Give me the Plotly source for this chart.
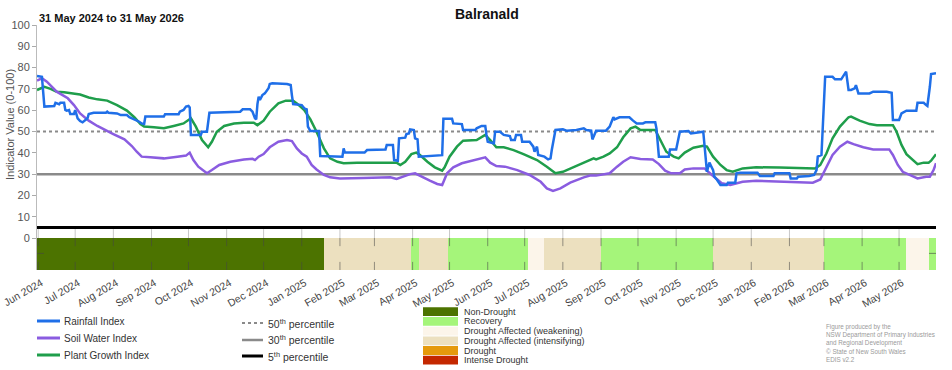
import pandas as pd
import plotly.graph_objects as go

# ---------------- data ----------------
START = "2024-05-31"
END = "2026-05-31"
TITLE = "Balranald"
SUBTITLE = "31 May 2024 to 31 May 2026"

# days since 31 May 2024
rain_day = [0, 4, 6, 12, 14, 15, 18, 19, 22, 23, 24, 26, 27, 30, 31, 33, 35, 37, 39, 41, 42, 46, 56, 57, 58, 65, 68,
            73, 75, 77, 80, 83, 85, 87, 88, 103, 104, 115, 116, 119, 121, 123, 124, 125, 133, 134, 138, 140, 165,
            167, 173, 175, 177, 178, 179, 180, 181, 183, 185, 187, 188, 189, 191, 203, 206, 207, 208, 215, 217,
            219, 220, 222, 229, 230, 248, 249, 250, 266, 268, 283, 284, 289, 290, 293, 294, 299, 300, 302, 303,
            306, 307, 309, 310, 329, 330, 337, 338, 345, 346, 356, 357, 361, 364, 365, 366, 371, 372, 376, 379,
            384, 385, 388, 389, 393, 394, 400, 402, 403, 404, 406, 407, 412, 415, 417, 418, 421, 427, 430, 438,
            444, 446, 450, 451, 454, 462, 465, 468, 469, 473, 481, 484, 487, 492, 494, 502, 503, 505, 513, 514,
            519, 522, 529, 531, 541, 542, 544, 546, 549, 550, 552, 555, 560, 561, 567, 568, 571, 585, 587, 598,
            599, 611, 612, 617, 618, 627, 631, 633, 634, 637, 638, 640, 646, 648, 653, 655, 657, 659, 661, 664,
            665, 667, 676, 679, 690, 694, 695, 700, 702, 706, 714, 715, 720, 722, 723, 725, 726, 730]
rain_val = [76.1, 75.7, 61.7, 61.7, 62.0, 63.5, 62.8, 63.5, 63.5, 60.1, 59.8, 60.1, 58.2, 58.2, 60.1, 56.2, 54.9,
            54.3, 55.4, 56.2, 58.2, 58.8, 58.8, 59.3, 58.8, 58.5, 57.7, 57.7, 56.7, 56.2, 55.4, 54.6, 53.8, 53.5,
            57.0, 57.0, 58.1, 58.1, 59.3, 60.1, 61.7, 62.0, 61.3, 48.4, 48.4, 49.9, 49.9, 58.8, 59.3, 60.4, 60.4,
            59.3, 56.2, 55.7, 62.9, 66.4, 64.8, 67.1, 67.9, 69.8, 70.3, 72.3, 72.6, 72.3, 71.8, 67.0, 62.9, 62.4,
            60.9, 60.4, 52.3, 50.2, 50.2, 38.5, 38.2, 42.1, 40.1, 40.1, 41.3, 41.6, 43.7, 43.7, 36.6, 36.3, 46.8,
            47.1, 48.8, 49.1, 51.0, 50.7, 46.8, 46.3, 38.2, 38.9, 56.0, 56.0, 53.8, 53.5, 50.7, 50.7, 51.5, 52.6,
            52.6, 48.4, 45.2, 44.4, 49.9, 49.9, 48.4, 47.9, 46.0, 46.0, 48.4, 48.4, 45.2, 45.2, 43.2, 42.9, 40.5,
            42.9, 39.0, 38.2, 36.9, 37.4, 41.3, 50.7, 51.0, 50.4, 50.7, 51.5, 50.7, 50.4, 46.3, 50.4, 50.4, 52.3,
            56.7, 55.7, 56.7, 56.7, 55.1, 53.8, 53.8, 54.3, 54.3, 51.5, 38.2, 38.2, 41.6, 41.6, 49.9, 50.2, 49.1,
            49.9, 43.7, 31.1, 35.4, 31.9, 28.8, 27.5, 24.9, 24.9, 26.0, 26.0, 30.4, 30.7, 30.7, 29.1, 29.1, 30.4,
            30.4, 28.0, 28.0, 28.8, 29.1, 29.6, 31.9, 38.2, 39.0, 52.3, 75.7, 75.7, 74.5, 74.5, 76.5, 78.1, 69.5,
            69.5, 70.3, 71.8, 67.9, 67.9, 68.7, 68.7, 68.2, 55.4, 55.4, 58.5, 59.8, 59.8, 63.5, 63.5, 62.4, 62.0,
            71.0, 77.0, 77.3]

soil_day = [0, 4, 8, 16, 25, 30, 35, 42, 49, 56, 62, 71, 77, 81, 85, 92, 103, 114, 121, 124, 127, 131, 135, 138,
            142, 148, 157, 168, 175, 177, 180, 184, 189, 196, 203, 207, 211, 215, 219, 223, 227, 233, 238, 246,
            265, 287, 292, 296, 303, 307, 311, 319, 325, 329, 333, 338, 345, 354, 364, 368, 373, 380, 390, 400,
            409, 414, 419, 425, 433, 444, 449, 454, 465, 471, 476, 482, 490, 500, 505, 510, 515, 522, 526, 533,
            542, 545, 551, 556, 563, 568, 573, 584, 601, 617, 630, 636, 641, 646, 652, 658, 663, 671, 679, 692,
            695, 699, 703, 710, 715, 722, 725, 728, 730]
soil_val = [73.9, 75.0, 73.4, 68.7, 65.6, 62.4, 58.5, 55.1, 52.6, 50.4, 48.8, 46.3, 43.2, 40.5, 38.2, 37.9, 37.4,
            38.2, 38.7, 40.1, 36.6, 33.5, 31.5, 30.4, 31.9, 34.3, 35.8, 36.9, 37.2, 36.6, 38.2, 39.4, 42.6, 45.2,
            46.0, 45.5, 42.1, 39.7, 38.2, 34.3, 32.2, 29.6, 28.5, 28.0, 28.2, 28.5, 27.7, 28.5, 30.0, 30.4, 29.1,
            26.9, 25.4, 24.9, 30.4, 33.2, 35.1, 36.3, 37.9, 35.4, 33.8, 33.5, 31.9, 29.6, 26.4, 23.3, 22.1, 23.3,
            26.0, 28.5, 29.3, 29.3, 30.4, 33.5, 35.8, 37.9, 37.1, 36.9, 34.7, 31.6, 30.4, 30.4, 32.2, 32.7, 32.7,
            31.1, 28.0, 25.7, 24.9, 25.7, 26.4, 26.9, 26.6, 26.0, 26.0, 27.5, 33.5, 39.0, 42.9, 45.2, 44.1, 42.6,
            41.6, 41.6, 39.0, 34.3, 31.1, 29.1, 28.0, 28.8, 28.8, 31.9, 35.1]

plant_day = [0, 6, 11, 16, 22, 30, 35, 42, 49, 57, 65, 73, 79, 84, 87, 95, 103, 111, 119, 125, 129, 134, 139, 142,
             146, 152, 160, 168, 176, 179, 184, 189, 196, 202, 208, 211, 217, 222, 227, 233, 238, 244, 249, 260,
             292, 295, 299, 304, 308, 311, 317, 323, 329, 331, 335, 341, 346, 357, 364, 368, 373, 379, 387, 395,
             406, 414, 421, 427, 436, 444, 452, 454, 460, 465, 471, 476, 482, 486, 490, 502, 506, 511, 517, 521,
             526, 533, 541, 544, 549, 555, 560, 565, 573, 584, 603, 622, 632, 636, 641, 646, 652, 659, 661, 668,
             676, 682, 695, 698, 702, 706, 711, 715, 720, 724, 726, 730]
plant_val = [69.5, 71.0, 70.0, 68.7, 68.4, 67.9, 67.4, 66.0, 65.1, 64.5, 62.4, 59.8, 56.7, 53.5, 52.3, 52.0, 51.5,
             52.6, 53.8, 56.2, 52.3, 46.0, 42.6, 45.2, 49.9, 52.6, 53.8, 54.1, 54.1, 53.0, 55.1, 59.3, 63.2, 64.5,
             64.5, 63.2, 60.1, 55.7, 49.9, 42.1, 37.4, 35.8, 35.1, 35.4, 35.4, 34.3, 35.8, 39.4, 40.1, 39.0, 35.8,
             33.2, 31.6, 33.2, 38.2, 42.9, 45.7, 46.0, 48.4, 46.0, 42.6, 42.6, 41.3, 39.4, 36.6, 33.5, 30.4, 31.1,
             33.5, 35.4, 37.4, 36.9, 38.2, 39.7, 42.6, 47.3, 51.5, 52.3, 50.7, 50.7, 46.0, 40.5, 38.2, 37.4, 40.1,
             42.4, 43.3, 42.9, 38.2, 34.3, 31.9, 31.1, 32.7, 33.2, 33.1, 32.7, 32.7, 34.3, 39.7, 46.8, 52.3, 56.7,
             57.0, 55.1, 53.5, 53.0, 53.0, 49.9, 43.7, 39.4, 36.6, 34.7, 35.4, 35.4, 36.3, 39.3]

series_names = ["Rainfall Index", "Soil Water Index", "Plant Growth Index"]
series_colors = ["#1f6fe8", "#8a5ce0", "#1f9e4b"]

percentile_vals = [50, 30, 5]
percentile_names = ["50<sup>th</sup> percentile", "30<sup>th</sup> percentile", "5<sup>th</sup> percentile"]

drought_start = ["2024-05-31", "2025-01-19", "2025-03-31", "2025-04-06", "2025-04-30", "2025-07-04",
                 "2025-07-17", "2025-09-01", "2025-12-01", "2026-03-01", "2026-05-07", "2026-05-25"]
drought_end = drought_start[1:] + [END]
drought_cat = ["Non-Drought", "Drought Affected (intensifying)", "Recovery", "Drought Affected (intensifying)",
               "Recovery", "Drought Affected (weakening)", "Drought Affected (intensifying)", "Recovery",
               "Drought Affected (intensifying)", "Recovery", "Drought Affected (weakening)", "Recovery"]

categories = ["Non-Drought", "Recovery", "Drought Affected (weakening)", "Drought Affected (intensifying)",
              "Drought", "Intense Drought"]
category_colors = ["#4c7300", "#a5f57a", "#fcf5ea", "#ece0bf", "#e59a0c", "#c42800"]

footnote = ["Figure produced by the", "NSW Department of Primary Industries", "and Regional Development",
            "\u00a9 State of New South Wales", "EDIS v2.2"]

# ---------------- layout geometry (pixels) ----------------
W, H = 952, 370
L, R, T, B = 37, 16, 25, 100
PW, PH = W - L - R, H - T - B
BAND = (-15, 0)
YMAX = 100


def px(x):
    return (x - L) / PW


def py(y):
    return (H - B - y) / PH


FONT = "Liberation Sans, Arial, sans-serif"
t0 = pd.Timestamp(START)


def to_dates(days):
    return t0 + pd.to_timedelta(days, unit="D")


fig = go.Figure()

# drought category band
cmap = dict(zip(categories, category_colors))
ds = pd.to_datetime(drought_start)
de = pd.to_datetime(drought_end)
fig.add_trace(go.Bar(
    x=ds, y=[BAND[1] - BAND[0]] * len(ds), base=BAND[0],
    width=[(e - s).total_seconds() * 1000 for s, e in zip(ds, de)], offset=0,
    marker=dict(color=[cmap[c] for c in drought_cat], line=dict(width=0)),
    showlegend=False, hoverinfo="skip"))

# percentile reference lines
pstyles = [dict(color="#8a8a8a", width=2, dash="dot"), dict(color="#8a8a8a", width=2.5),
           dict(color="#000000", width=3)]
for v, st in zip(percentile_vals, pstyles):
    fig.add_trace(go.Scatter(x=[START, END], y=[v, v], mode="lines", line=st,
                             showlegend=False, hoverinfo="skip"))

# index series
series = [(rain_day, rain_val), (soil_day, soil_val), (plant_day, plant_val)]
for i in [2, 1, 0]:
    d, v = series[i]
    fig.add_trace(go.Scatter(x=to_dates(d), y=v, mode="lines", name=series_names[i],
                             line=dict(color=series_colors[i], width=2.5), showlegend=False))

shapes = []
months = pd.date_range("2024-06-01", "2026-05-01", freq="MS")
for m in months:
    shapes.append(dict(type="line", xref="x", yref="y", x0=m, x1=m, y0=0, y1=4.2,
                       line=dict(color="#c8c8c8", width=1), layer="below"))
    shapes.append(dict(type="line", xref="x", yref="y", x0=m, x1=m, y0=0, y1=-3.8,
                       line=dict(color="rgba(70,70,70,0.55)", width=1)))
    shapes.append(dict(type="line", xref="x", yref="y", x0=m, x1=m, y0=-11.2, y1=-15,
                       line=dict(color="rgba(70,70,70,0.55)", width=1)))
# small inner y ticks on the band
shapes.append(dict(type="line", xref="paper", yref="y", x0=0, x1=7 / PW, y0=-7.2, y1=-7.2,
                   line=dict(color="rgba(70,70,70,0.6)", width=1)))
shapes.append(dict(type="line", xref="paper", yref="y", x0=1 - 7 / PW, x1=1, y0=-7.2, y1=-7.2,
                   line=dict(color="rgba(70,70,70,0.6)", width=1)))

annotations = []
# index legend
for name, col, y in zip(series_names, series_colors, [321, 338, 355]):
    shapes.append(dict(type="line", xref="paper", yref="paper", x0=px(37), x1=px(60), y0=py(y), y1=py(y),
                       line=dict(color=col, width=3)))
    annotations.append(dict(xref="paper", yref="paper", x=px(62), y=py(y), text=name, showarrow=False,
                            xanchor="left", yanchor="middle", font=dict(size=10, color="#333", family=FONT)))
# percentile legend
for name, st, y in zip(percentile_names, pstyles, [323, 340, 356]):
    shapes.append(dict(type="line", xref="paper", yref="paper", x0=px(242), x1=px(263), y0=py(y), y1=py(y),
                       line=st))
    annotations.append(dict(xref="paper", yref="paper", x=px(266), y=py(y), text=name, showarrow=False,
                            xanchor="left", yanchor="middle", font=dict(size=10.5, color="#333", family=FONT)))
# drought category legend
for k, (name, col) in enumerate(zip(categories, category_colors)):
    yc = 311.7 + k * 9.7
    shapes.append(dict(type="rect", xref="paper", yref="paper", x0=px(423), x1=px(458),
                       y0=py(yc - 4.4), y1=py(yc + 4.4), fillcolor=col, line=dict(width=0)))
    annotations.append(dict(xref="paper", yref="paper", x=px(462), y=py(yc), text=name, showarrow=False,
                            xanchor="left", yanchor="middle", font=dict(size=9, color="#333", family=FONT)))
# footnote
for k, line in enumerate(footnote):
    annotations.append(dict(xref="paper", yref="paper", x=px(824), y=py(327 + k * 8.2), text=line,
                            showarrow=False, xanchor="left", yanchor="middle",
                            font=dict(size=6.3, color="#9a9a9a", family=FONT)))
# titles
annotations.append(dict(xref="paper", yref="paper", x=0.5, y=py(14), text="<b>" + TITLE + "</b>",
                        showarrow=False, xanchor="center", yanchor="middle",
                        font=dict(size=14, color="#111", family=FONT)))
annotations.append(dict(xref="paper", yref="paper", x=px(37), y=py(18), text="<b>" + SUBTITLE + "</b>",
                        showarrow=False, xanchor="left", yanchor="middle",
                        font=dict(size=11, color="#111", family=FONT)))
annotations.append(dict(xref="paper", yref="paper", x=px(10), y=py(125), text="Indicator Value (0-100)",
                        textangle=-90, showarrow=False, xanchor="center", yanchor="middle",
                        font=dict(size=11, color="#555", family=FONT)))

fig.update_layout(
    width=W, height=H, margin=dict(l=L, r=R, t=T, b=B, autoexpand=False),
    paper_bgcolor="white", plot_bgcolor="white",
    barmode="overlay", bargap=0,
    font=dict(family=FONT, color="#444"),
    shapes=shapes, annotations=annotations, showlegend=False,
    xaxis=dict(type="date", range=[START, END], tickvals=months, automargin=False,
               ticktext=[m.strftime("%b %Y") for m in months], tickangle=-30,
               tickfont=dict(size=10.5, color="#444"), showgrid=False, zeroline=False,
               ticks="", showline=False, ticklabeloverflow="allow",
               ticklabelshift=3, ticklabelstandoff=4),
    yaxis=dict(range=[BAND[0], YMAX], tickvals=list(range(0, 101, 10)), automargin=False,
               tickfont=dict(size=11, color="#555"), ticks="outside", ticklen=4, tickcolor="#aaa",
               showgrid=False, zeroline=False, showline=True, linecolor="#bbb", linewidth=1),
)

fig.write_html("out.html")
